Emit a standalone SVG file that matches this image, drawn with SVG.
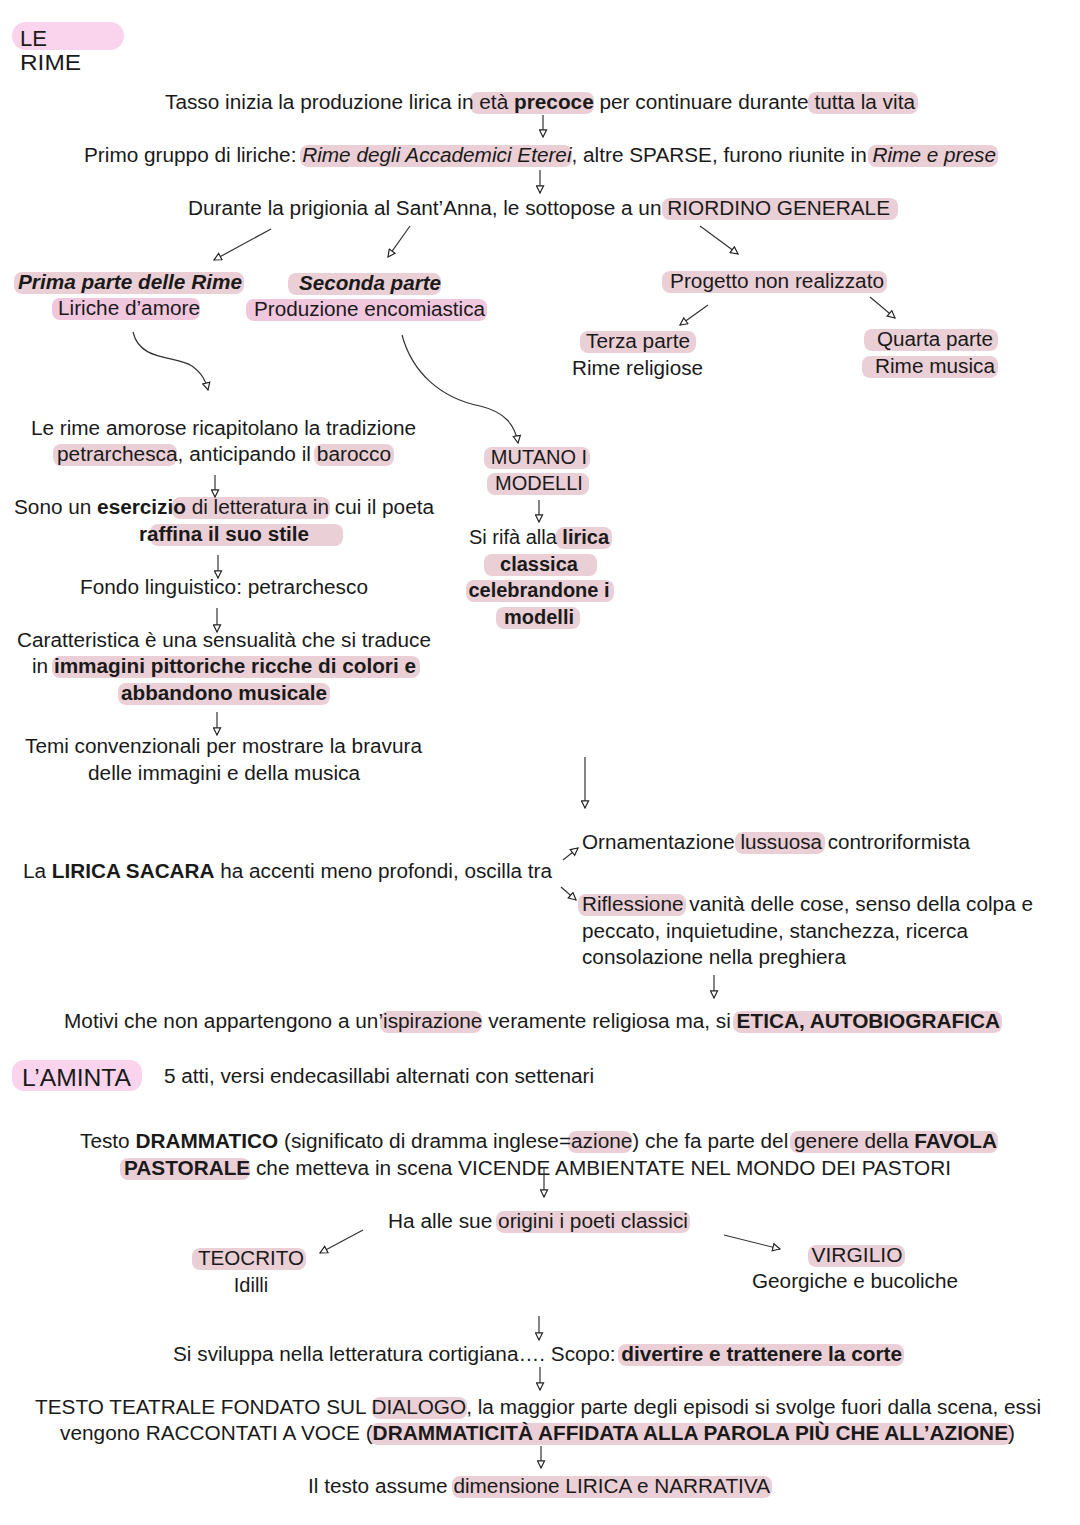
<svg xmlns="http://www.w3.org/2000/svg" width="1080" height="1525" viewBox="0 0 1080 1525">
<style>
text{font-family:"Liberation Sans",Arial,sans-serif;font-size:20px;fill:#1a1a1a}
.b{font-weight:bold}
.i{font-style:italic}
.bi{font-weight:bold;font-style:italic}
.h{fill:#ead0d6}
.p{fill:#f1c7de}
.t{fill:#f9d4ec}
.c{fill:none;stroke:#333;stroke-width:1.2;marker-end:url(#ah)}
</style>
<defs>
<marker id="ah" viewBox="0 0 10 10" refX="9" refY="5" markerWidth="9" markerHeight="9" markerUnits="userSpaceOnUse" orient="auto">
<path d="M1,1 L9,5 L1,9 Z" fill="#fff" stroke="#222" stroke-width="1.3"/>
</marker>
</defs>
<rect width="1080" height="1525" fill="#fff"/>

<g id="title-rime">
<rect class="t" x="12" y="22" width="112" height="28" rx="14"/>
<text x="20" y="46" style="font-size:22px">LE</text>
<text x="20" y="70" style="font-size:22px" textLength="61" lengthAdjust="spacingAndGlyphs">RIME</text>
</g>

<g id="n-tasso">
<rect class="h" x="470" y="92" width="124" height="22" rx="8"/>
<rect class="h" x="808" y="92" width="110" height="22" rx="8"/>
<text x="165" y="109" textLength="750" lengthAdjust="spacingAndGlyphs">Tasso inizia la produzione lirica in età <tspan class="b">precoce</tspan> per continuare durante tutta la vita</text>
</g>

<g id="n-primo">
<rect class="h" x="300" y="145" width="272" height="22" rx="8"/>
<rect class="h" x="868" y="145" width="130" height="22" rx="8"/>
<text x="84" y="162" textLength="912" lengthAdjust="spacingAndGlyphs">Primo gruppo di liriche: <tspan class="i">Rime degli Accademici Eterei</tspan>, altre SPARSE, furono riunite in <tspan class="i">Rime e prese</tspan></text>
</g>

<g id="n-durante">
<rect class="h" x="662" y="198" width="236" height="22" rx="8"/>
<text x="188" y="215" textLength="702" lengthAdjust="spacingAndGlyphs">Durante la prigionia al Sant’Anna, le sottopose a un RIORDINO GENERALE</text>
</g>

<g id="n-prima">
<rect class="h" x="14" y="272" width="230" height="22" rx="8"/>
<rect class="p" x="52" y="298" width="148" height="22" rx="8"/>
<text x="18" y="289" class="bi" textLength="224" lengthAdjust="spacingAndGlyphs">Prima parte delle Rime</text>
<text x="58" y="315" textLength="142" lengthAdjust="spacingAndGlyphs">Liriche d’amore</text>
</g>

<g id="n-seconda">
<rect class="h" x="288" y="273" width="153" height="22" rx="8"/>
<rect class="p" x="246" y="299" width="241" height="22" rx="8"/>
<text x="299" y="290" class="bi" textLength="142" lengthAdjust="spacingAndGlyphs">Seconda parte</text>
<text x="254" y="316" textLength="231" lengthAdjust="spacingAndGlyphs">Produzione encomiastica</text>
</g>

<g id="n-progetto">
<rect class="h" x="662" y="271" width="225" height="22" rx="8"/>
<text x="670" y="288" textLength="214" lengthAdjust="spacingAndGlyphs">Progetto non realizzato</text>
</g>

<g id="n-terza">
<rect class="h" x="580" y="331" width="116" height="22" rx="8"/>
<text x="586" y="348" textLength="104" lengthAdjust="spacingAndGlyphs">Terza parte</text>
<text x="572" y="375" textLength="131" lengthAdjust="spacingAndGlyphs">Rime religiose</text>
</g>

<g id="n-quarta">
<rect class="h" x="864" y="329" width="134" height="22" rx="8"/>
<rect class="h" x="862" y="356" width="136" height="22" rx="8"/>
<text x="877" y="346" textLength="116" lengthAdjust="spacingAndGlyphs">Quarta parte</text>
<text x="875" y="373" textLength="120" lengthAdjust="spacingAndGlyphs">Rime musica</text>
</g>

<g id="n-amorose">
<rect class="h" x="53" y="444" width="124" height="22" rx="8"/>
<rect class="h" x="314" y="444" width="80" height="22" rx="8"/>
<text x="31" y="435" textLength="385" lengthAdjust="spacingAndGlyphs">Le rime amorose ricapitolano la tradizione</text>
<text x="57" y="461" textLength="334" lengthAdjust="spacingAndGlyphs">petrarchesca, anticipando il barocco</text>
</g>

<g id="n-esercizio">
<rect class="h" x="172" y="497" width="158" height="22" rx="8"/>
<rect class="h" x="150" y="524" width="193" height="22" rx="8"/>
<text x="14" y="514" textLength="420" lengthAdjust="spacingAndGlyphs">Sono un <tspan class="b">esercizio</tspan> di letteratura in cui il poeta</text>
<text x="139" y="541" class="b" textLength="170" lengthAdjust="spacingAndGlyphs">raffina il suo stile</text>
</g>

<g id="n-fondo">
<text x="80" y="594" textLength="288" lengthAdjust="spacingAndGlyphs">Fondo linguistico: petrarchesco</text>
</g>

<g id="n-caratteristica">
<rect class="h" x="52" y="656" width="368" height="22" rx="8"/>
<rect class="h" x="118" y="683" width="212" height="22" rx="8"/>
<text x="17" y="647" textLength="414" lengthAdjust="spacingAndGlyphs">Caratteristica è una sensualità che si traduce</text>
<text x="32" y="673" textLength="384" lengthAdjust="spacingAndGlyphs">in <tspan class="b">immagini pittoriche ricche di colori e</tspan></text>
<text x="121" y="700" class="b" textLength="206" lengthAdjust="spacingAndGlyphs">abbandono musicale</text>
</g>

<g id="n-temi">
<text x="25" y="753" textLength="397" lengthAdjust="spacingAndGlyphs">Temi convenzionali per mostrare la bravura</text>
<text x="88" y="780" textLength="272" lengthAdjust="spacingAndGlyphs">delle immagini e della musica</text>
</g>

<g id="n-mutano">
<rect class="h" x="484" y="447" width="106" height="22" rx="8"/>
<rect class="h" x="487" y="473" width="102" height="22" rx="8"/>
<text x="539" y="464" text-anchor="middle">MUTANO I</text>
<text x="539" y="490" text-anchor="middle">MODELLI</text>
</g>

<g id="n-rifa">
<rect class="h" x="556" y="527" width="56" height="22" rx="8"/>
<rect class="h" x="484" y="554" width="113" height="22" rx="8"/>
<rect class="h" x="466" y="580" width="148" height="22" rx="8"/>
<rect class="h" x="496" y="607" width="84" height="22" rx="8"/>
<text x="539" y="544" text-anchor="middle">Si rifà alla <tspan class="b">lirica</tspan></text>
<text x="539" y="571" text-anchor="middle" class="b">classica</text>
<text x="539" y="597" text-anchor="middle" class="b">celebrandone i</text>
<text x="539" y="624" text-anchor="middle" class="b">modelli</text>
</g>

<g id="n-sacara">
<text x="23" y="878" textLength="529" lengthAdjust="spacingAndGlyphs">La <tspan class="b">LIRICA SACARA</tspan> ha accenti meno profondi, oscilla tra</text>
</g>

<g id="n-ornamentazione">
<rect class="h" x="735" y="832" width="90" height="22" rx="8"/>
<text x="582" y="849" textLength="388" lengthAdjust="spacingAndGlyphs">Ornamentazione lussuosa controriformista</text>
</g>

<g id="n-riflessione">
<rect class="h" x="578" y="894" width="108" height="22" rx="8"/>
<text x="582" y="911" textLength="451" lengthAdjust="spacingAndGlyphs">Riflessione vanità delle cose, senso della colpa e</text>
<text x="582" y="938" textLength="386" lengthAdjust="spacingAndGlyphs">peccato, inquietudine, stanchezza, ricerca</text>
<text x="582" y="964" textLength="264" lengthAdjust="spacingAndGlyphs">consolazione nella preghiera</text>
</g>

<g id="n-motivi">
<rect class="h" x="380" y="1011" width="102" height="22" rx="8"/>
<rect class="h" x="733" y="1011" width="269" height="22" rx="8"/>
<text x="64" y="1028" textLength="936" lengthAdjust="spacingAndGlyphs">Motivi che non appartengono a un’ispirazione veramente religiosa ma, si <tspan class="b">ETICA, AUTOBIOGRAFICA</tspan></text>
</g>

<g id="title-aminta">
<rect class="t" x="12" y="1060" width="130" height="31" rx="12"/>
<text x="22" y="1086" style="font-size:24px" textLength="109" lengthAdjust="spacingAndGlyphs">L’AMINTA</text>
<text x="164" y="1083" textLength="430" lengthAdjust="spacingAndGlyphs">5 atti, versi endecasillabi alternati con settenari</text>
</g>

<g id="n-testo">
<rect class="h" x="568" y="1131" width="64" height="22" rx="8"/>
<rect class="h" x="790" y="1131" width="208" height="22" rx="8"/>
<rect class="h" x="120" y="1158" width="130" height="22" rx="8"/>
<text x="80" y="1148" textLength="917" lengthAdjust="spacingAndGlyphs">Testo <tspan class="b">DRAMMATICO</tspan> (significato di dramma inglese=azione) che fa parte del genere della <tspan class="b">FAVOLA</tspan></text>
<text x="124" y="1175" textLength="827" lengthAdjust="spacingAndGlyphs"><tspan class="b">PASTORALE</tspan> che metteva in scena VICENDE AMBIENTATE NEL MONDO DEI PASTORI</text>
</g>

<g id="n-origini">
<rect class="h" x="496" y="1211" width="194" height="22" rx="8"/>
<text x="388" y="1228" textLength="300" lengthAdjust="spacingAndGlyphs">Ha alle sue origini i poeti classici</text>
</g>

<g id="n-teocrito">
<rect class="h" x="192" y="1248" width="114" height="22" rx="8"/>
<text x="251" y="1265" text-anchor="middle" textLength="106" lengthAdjust="spacingAndGlyphs">TEOCRITO</text>
<text x="251" y="1292" text-anchor="middle">Idilli</text>
</g>

<g id="n-virgilio">
<rect class="h" x="808" y="1245" width="97" height="22" rx="8"/>
<text x="857" y="1262" text-anchor="middle" textLength="91" lengthAdjust="spacingAndGlyphs">VIRGILIO</text>
<text x="855" y="1288" text-anchor="middle" textLength="206" lengthAdjust="spacingAndGlyphs">Georgiche e bucoliche</text>
</g>

<g id="n-sviluppa">
<rect class="h" x="618" y="1344" width="286" height="22" rx="8"/>
<text x="173" y="1361" textLength="729" lengthAdjust="spacingAndGlyphs">Si sviluppa nella letteratura cortigiana…. Scopo: <tspan class="b">divertire e trattenere la corte</tspan></text>
</g>

<g id="n-teatrale">
<rect class="h" x="372" y="1397" width="95" height="22" rx="8"/>
<rect class="h" x="370" y="1423" width="642" height="22" rx="8"/>
<text x="35" y="1414" textLength="1006" lengthAdjust="spacingAndGlyphs">TESTO TEATRALE FONDATO SUL DIALOGO, la maggior parte degli episodi si svolge fuori dalla scena, essi</text>
<text x="60" y="1440" textLength="955" lengthAdjust="spacingAndGlyphs">vengono RACCONTATI A VOCE (<tspan class="b">DRAMMATICITÀ AFFIDATA ALLA PAROLA PIÙ CHE ALL’AZIONE</tspan>)</text>
</g>

<g id="n-assume">
<rect class="h" x="452" y="1476" width="320" height="22" rx="8"/>
<text x="308" y="1493" textLength="462" lengthAdjust="spacingAndGlyphs">Il testo assume dimensione LIRICA e NARRATIVA</text>
</g>

<g id="connectors">
<path class="c" d="M543,115 L543,137"/>
<path class="c" d="M540,170 L540,193"/>
<path class="c" d="M271,229 L214,260"/>
<path class="c" d="M410,226 L388,257"/>
<path class="c" d="M700,226 L738,254"/>
<path class="c" d="M708,305 L680,325"/>
<path class="c" d="M870,297 L895,318"/>
<path class="c" d="M133,332 C140,362 175,355 192,366 C203,374 206,382 208,390"/>
<path class="c" d="M402,335 C412,372 440,398 480,406 C505,412 515,425 518,443"/>
<path class="c" d="M215,475 L215,497"/>
<path class="c" d="M218,555 L218,578"/>
<path class="c" d="M217,608 L217,632"/>
<path class="c" d="M217,712 L217,735"/>
<path class="c" d="M539,500 L539,522"/>
<path class="c" d="M585,757 L585,808"/>
<path class="c" d="M563,860 L578,848"/>
<path class="c" d="M561,887 L576,900"/>
<path class="c" d="M714,975 L714,998"/>
<path class="c" d="M544,1168 L544,1197"/>
<path class="c" d="M363,1230 L320,1253"/>
<path class="c" d="M724,1235 L780,1249"/>
<path class="c" d="M539,1316 L539,1340"/>
<path class="c" d="M540,1367 L540,1390"/>
<path class="c" d="M541,1446 L541,1468"/>
</g>
</svg>
